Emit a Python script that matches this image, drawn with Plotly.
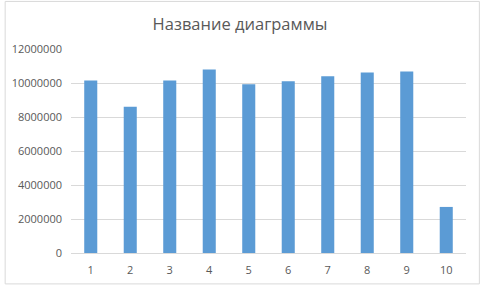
import plotly.graph_objects as go

categories = ["1", "2", "3", "4", "5", "6", "7", "8", "9", "10"]
values = [10150000, 8600000, 10150000, 10790000, 9920000,
          10100000, 10390000, 10620000, 10670000, 2710000]

W, H = 480, 289
ML, MR, MT, MB = 67, 14, 49, 32
pw, ph = W - ML - MR, H - MT - MB

fig = go.Figure(go.Bar(
    x=categories, y=values,
    marker=dict(color="#5b9bd5", line=dict(width=0)),
    width=0.33,
))

fig.update_layout(
    width=W, height=H,
    margin=dict(l=ML, r=MR, t=MT, b=MB),
    paper_bgcolor="white", plot_bgcolor="white",
    showlegend=False,
    title=dict(text="Название диаграммы", x=0.5, xanchor="center",
               y=1 - 24 / H, yanchor="middle",
               font=dict(family="Open Sans", size=16.5, color="#595959")),
    font=dict(family="Open Sans", size=11, color="#595959"),
    xaxis=dict(type="category", showgrid=False, showline=True,
               linecolor="#d9d9d9", linewidth=1, ticks="",
               ticklabelstandoff=7, tickfont=dict(size=11, color="#595959")),
    yaxis=dict(range=[0, 12000000], dtick=2000000, tickformat="d",
               showgrid=True, gridcolor="#d9d9d9", gridwidth=1,
               zeroline=False, showline=False, ticks="",
               ticklabelstandoff=8, tickfont=dict(size=11, color="#595959")),
    shapes=[dict(type="rect", xref="paper", yref="paper",
                 x0=(-ML + 0.5) / pw, x1=(pw + MR - 0.5) / pw,
                 y0=(-MB + 0.5) / ph, y1=(ph + MT - 0.5) / ph,
                 line=dict(color="#d9d9d9", width=1), layer="below")],
)

fig.write_html("out.html")
